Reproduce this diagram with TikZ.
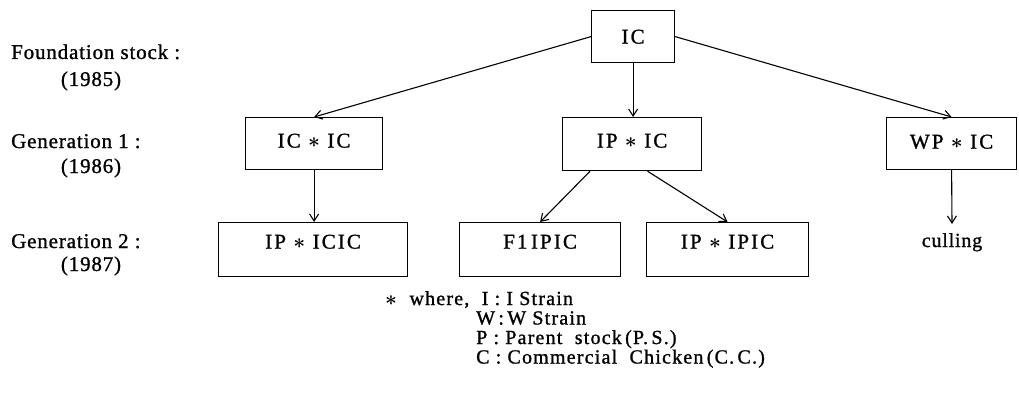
\documentclass[tikz,border=0pt]{standalone}
\usepackage{fontspec}
\setmainfont{Liberation Serif}
\newfontfamily\boxfont[LetterSpace=10,FakeBold=1.1]{Liberation Serif}
\newfontfamily\lblfont[LetterSpace=4,FakeBold=1.1]{Liberation Serif}
\newfontfamily\legfont[LetterSpace=6,FakeBold=1.1]{Liberation Serif}
\newcommand{\bast}{{\boldmath$\ast$}}
\usetikzlibrary{arrows.meta,calc}
\tikzset{
  box/.style={draw, line width=1.2pt, inner xsep=0pt, inner ysep=0pt, anchor=north west,
    font=\boxfont\fontsize{21}{21}\selectfont},
  conn/.style={line width=1.1pt, -{Straight Barb[length=7pt,width=9pt]}},
  lbl/.style={anchor=base west, inner sep=0pt, font=\lblfont\fontsize{21}{24}\selectfont},
  yr/.style={anchor=base, inner sep=0pt, font=\lblfont\fontsize{21}{24}\selectfont},
  leg/.style={anchor=base west, inner sep=0pt, font=\legfont\fontsize{20}{20}\selectfont},
}
\begin{document}
\begin{tikzpicture}[x=1pt,y=-1pt]
\useasboundingbox (0,0) rectangle (1019,393);
% boxes
\node[box, minimum width=83pt, text height=33pt, text depth=19pt] (ic) at (591,10) {IC};
\node[box, minimum width=137pt, text height=30pt, text depth=22pt] (icic) at (245,117) {IC \bast{} IC};
\node[box, minimum width=139pt, text height=30pt, text depth=23pt] (ipic) at (562,117) {IP \bast{} IC};
\node[box, minimum width=130pt, text height=31pt, text depth=21pt] (wpic) at (886,117) {WP \bast{} IC};
\node[box, minimum width=189pt, text height=26pt, text depth=28pt] (ipicic) at (218,222) {IP \bast{} ICIC};
\node[box, minimum width=161pt, text height=26pt, text depth=28pt] (f1) at (459,222) {F1\,IPIC};
\node[box, minimum width=162pt, text height=26pt, text depth=28pt] (ipipic) at (646,222) {IP \bast{} IPIC};
\node[anchor=base, inner xsep=0pt, inner ysep=9pt, font=\lblfont\fontsize{20}{20}\selectfont] (cull) at (952,247) {culling};
% left labels
\node[lbl] (found) at (11,59) {Foundation stock :};
\node[yr] (y85) at (91,86) {(1985)};
\node[lbl] (gen1) at (11,148) {Generation 1 :};
\node[yr] (y86) at (91,173) {(1986)};
\node[lbl] (gen2) at (11,248) {Generation 2 :};
\node[yr] (y87) at (91,271) {(1987)};
% legend
\node[leg] (leg1) at (385,305) {\bast\ \ where,\ \ I\ :\ I Strain};
\node[leg] (leg2) at (476,324.5) {W\,:\,W Strain};
\node[leg] (leg3) at (476,344) {P\ :\ Parent\ \ stock\,(P.\,S.)};
\node[leg] (leg4) at (476,363.5) {C\ :\ Commercial\ \ Chicken\,(C.\,C.)};
% connectors
\draw[conn] (ic.west) -- (icic.north);
\draw[conn] (ic.south) -- (ic.south |- ipic.north);
\draw[conn] (ic.east) -- (wpic.north);
\draw[conn] (icic.south) -- (icic.south |- ipicic.north);
\draw[conn] ($(ipic.south west)!0.2!(ipic.south east)$) -- (f1.north);
\draw[conn] ($(ipic.south west)!0.61!(ipic.south east)$) -- (ipipic.north);
\draw[conn] (wpic.south) -- (cull.north);
\end{tikzpicture}
\end{document}
